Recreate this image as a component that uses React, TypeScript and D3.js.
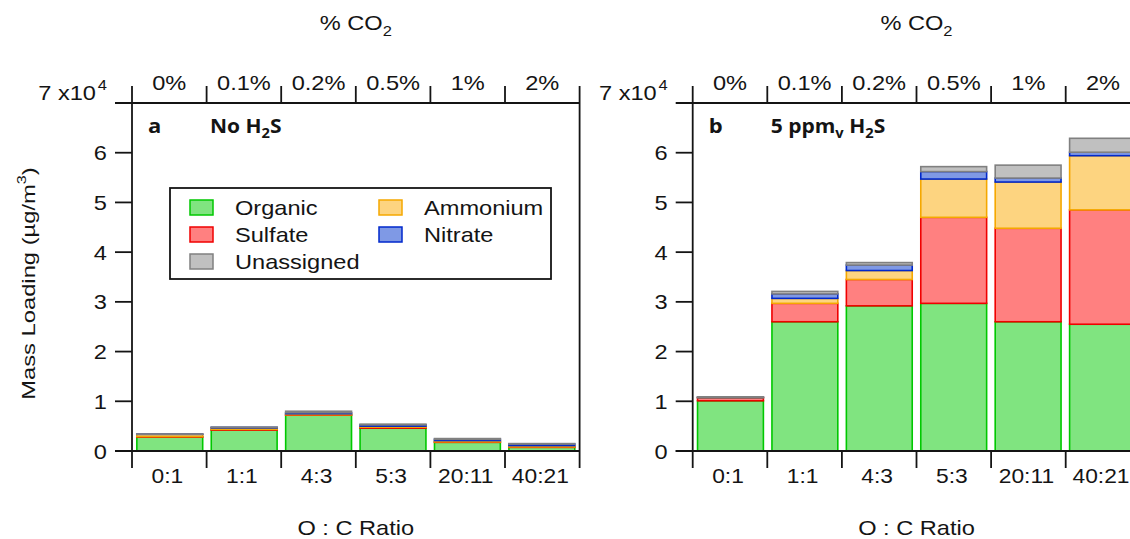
import React from 'react';
import * as d3 from 'd3';

// O:C ratio categories (bottom axis) and %CO2 (top axis)
const categories = ['0:1', '1:1', '4:3', '5:3', '20:11', '40:21'];
const co2Labels = ['0%', '0.1%', '0.2%', '0.5%', '1%', '2%'];
const species = ['Organic', 'Sulfate', 'Ammonium', 'Nitrate', 'Unassigned'];
const yTicks = [0, 1, 2, 3, 4, 5, 6];

// panel a, no H2S (x10^4 ug/m3)
const organicA = [0.28, 0.42, 0.72, 0.46, 0.175, 0.074];
const sulfateA = [0.01, 0.015, 0.01, 0.02, 0.01, 0.01];
const ammoniumA = [0.045, 0.03, 0.02, 0.02, 0.025, 0.025];
const nitrateA = [0.003, 0.01, 0.02, 0.025, 0.025, 0.03];
const unassignedA = [0.002, 0.005, 0.03, 0.015, 0.015, 0.01];

// panel b, 5 ppmv H2S
const organicB = [1.01, 2.6, 2.92, 2.97, 2.6, 2.55];
const sulfateB = [0.06, 0.37, 0.53, 1.73, 1.88, 2.3];
const ammoniumB = [0.005, 0.1, 0.18, 0.77, 0.93, 1.09];
const nitrateB = [0.005, 0.09, 0.11, 0.15, 0.08, 0.07];
const unassignedB = [0.01, 0.05, 0.05, 0.1, 0.26, 0.28];

const fills = {
  Organic: '#80e480',
  Sulfate: '#ff8080',
  Ammonium: '#fdd480',
  Nitrate: '#7f99e5',
  Unassigned: '#c0c0c0',
};
const strokes = {
  Organic: '#00c800',
  Sulfate: '#f00000',
  Ammonium: '#f5a800',
  Nitrate: '#0028cc',
  Unassigned: '#808080',
};

const FONT = "'Liberation Sans', Arial, sans-serif";
const INK = '#141414';

const Txt = ({ x, y, anchor = 'middle', size = 20, weight = 'normal', sx = 1.18, rotate = false, family = FONT, children }) => {
  const tf = rotate
    ? `translate(${x},${y}) rotate(-90) scale(${sx},1)`
    : `translate(${x},${y}) scale(${sx},1)`;
  return (
    <text transform={tf} textAnchor={anchor} fontSize={size} fontWeight={weight} fontFamily={family} fill={INK}>
      {children}
    </text>
  );
};

const Panel = ({ px0, letter, title, organic, sulfate, ammonium, nitrate, unassigned, yLabel }) => {
  const W = 447.6;
  const yTop = 103;
  const yBase = 451;
  const tick = 17;

  const rows = categories.map((c, i) => ({
    cat: c,
    Organic: organic[i],
    Sulfate: sulfate[i],
    Ammonium: ammonium[i],
    Nitrate: nitrate[i],
    Unassigned: unassigned[i],
  }));
  const stacked = d3.stack().keys(species)(rows);

  const x = d3.scaleBand().domain(categories).range([px0, px0 + W]).paddingInner(0.115).paddingOuter(0.065);
  const edge = d3.scaleLinear().domain([0, categories.length]).range([px0, px0 + W]);
  const y = d3.scaleLinear().domain([0, 7]).range([yBase, yTop]);
  const step = W / categories.length;
  const cx = px0 + W / 2;

  return (
    <g>
      {stacked.map((s) => (
        <g key={s.key}>
          {s.map((d, i) => (
            <rect
              key={i}
              x={x(categories[i])}
              y={y(d[1])}
              width={x.bandwidth()}
              height={Math.max(0, y(d[0]) - y(d[1]))}
              fill={fills[s.key]}
              stroke={strokes[s.key]}
              strokeWidth={1.6}
            />
          ))}
        </g>
      ))}

      {/* frame */}
      <g stroke={INK} strokeWidth={1.8} fill="none">
        <line x1={px0} x2={px0} y1={yTop - tick} y2={yBase + tick} />
        <line x1={px0 + W} x2={px0 + W} y1={yTop - tick} y2={yBase + tick} />
        <line x1={px0 - tick} x2={px0 + W} y1={yTop} y2={yTop} />
        <line x1={px0 - tick} x2={px0 + W} y1={yBase} y2={yBase} />
        {yTicks.map((t) => (
          <line key={t} x1={px0 - tick} x2={px0} y1={y(t)} y2={y(t)} />
        ))}
        {d3.range(1, categories.length).map((i) => (
          <g key={i}>
            <line x1={edge(i)} x2={edge(i)} y1={yBase} y2={yBase + tick} />
            <line x1={edge(i)} x2={edge(i)} y1={yTop - tick} y2={yTop} />
          </g>
        ))}
      </g>

      {yTicks.map((t) => (
        <Txt key={t} x={px0 - 25} y={y(t) + 7.5} anchor="end">{t}</Txt>
      ))}
      <Txt x={px0 - 36} y={yTop - 3} anchor="end">7 x10</Txt>
      <Txt x={px0 - 25} y={yTop - 13} anchor="end" size={14}>4</Txt>

      {categories.map((c, i) => (
        <Txt key={c} x={edge(i) + step / 2 - 2} y={483} sx={1.14}>{c}</Txt>
      ))}
      {co2Labels.map((c, i) => (
        <Txt key={c} x={edge(i) + step / 2} y={90}>{c}</Txt>
      ))}

      <Txt x={cx} y={535}>O : C Ratio</Txt>
      <Txt x={cx} y={30}>
        % CO<tspan dy={6} fontSize={14}>2</tspan>
      </Txt>

      <Txt x={px0 + 16} y={133} anchor="start" weight="bold" size={20} sx={1.1} family="'Open Sans', sans-serif">{letter}</Txt>
      <Txt x={px0 + 78} y={133} anchor="start" weight="bold" size={20} sx={1.05} family="'Open Sans', sans-serif">{title}</Txt>

      {yLabel && (
        <Txt x={35} y={283.5} rotate sx={1.25} size={19}>
          Mass Loading (µg/m<tspan dy={-9} fontSize={13}>3</tspan><tspan dy={9}>)</tspan>
        </Txt>
      )}
    </g>
  );
};

const Legend = () => {
  const cols = [
    { x: 190, items: ['Organic', 'Sulfate', 'Unassigned'] },
    { x: 379, items: ['Ammonium', 'Nitrate'] },
  ];
  return (
    <g>
      <rect x={170} y={188} width={381} height={91} fill="#fff" stroke={INK} strokeWidth={1.8} />
      {cols.map((c) =>
        c.items.map((k, i) => (
          <g key={k}>
            <rect x={c.x} y={200 + i * 27} width={23} height={15} fill={fills[k]} stroke={strokes[k]} strokeWidth={1.5} />
            <Txt x={c.x + 45} y={215 + i * 27} anchor="start">{k}</Txt>
          </g>
        ))
      )}
    </g>
  );
};

export default function App() {
  return (
    <svg width={1130} height={539} style={{ position: 'absolute', left: 0, top: 0, background: '#fff' }}>
      <rect width={1130} height={539} fill="#fff" />
      <Panel
        px0={132}
        letter="a"
        title={<>No H<tspan dy={5} fontSize={14}>2</tspan><tspan dy={-5}>S</tspan></>}
        organic={organicA}
        sulfate={sulfateA}
        ammonium={ammoniumA}
        nitrate={nitrateA}
        unassigned={unassignedA}
        yLabel
      />
      <Legend />
      <Panel
        px0={692.7}
        letter="b"
        title={<>5 ppm<tspan dy={5} fontSize={14}>v</tspan><tspan dy={-5}>{' H'}</tspan><tspan dy={5} fontSize={14}>2</tspan><tspan dy={-5}>S</tspan></>}
        organic={organicB}
        sulfate={sulfateB}
        ammonium={ammoniumB}
        nitrate={nitrateB}
        unassigned={unassignedB}
      />
    </svg>
  );
}
